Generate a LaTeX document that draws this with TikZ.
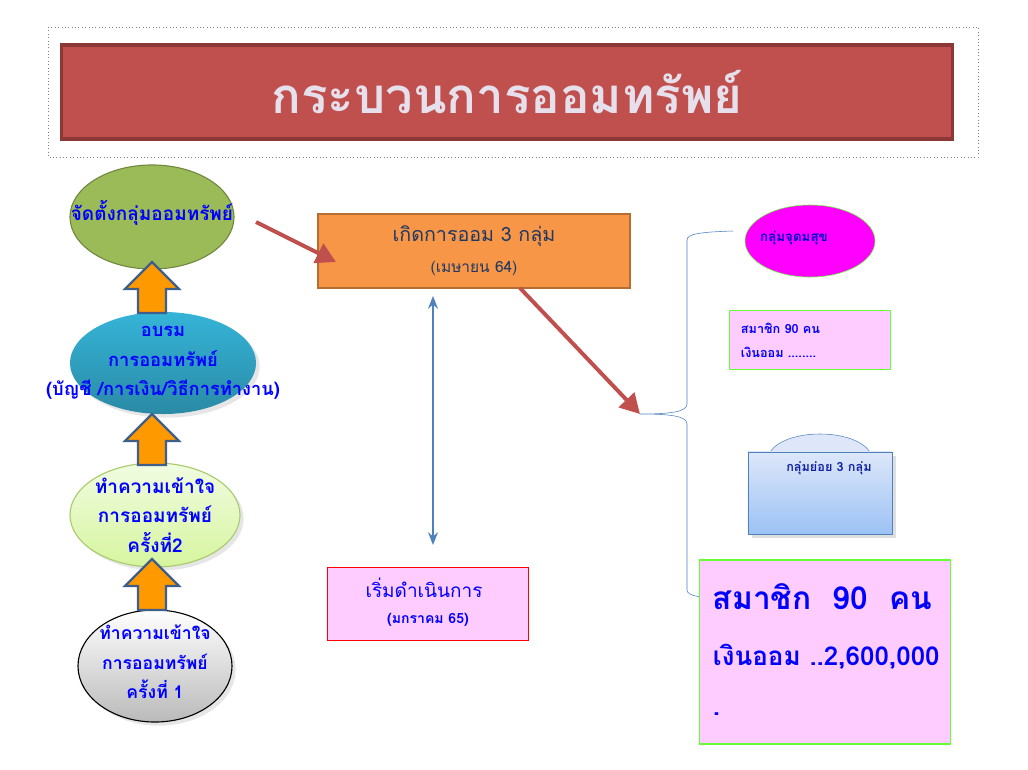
\documentclass[tikz,border=0pt]{standalone}
\usepackage{fontspec}
\setmainfont[Script=Thai]{Loma}
\usetikzlibrary{shapes.geometric,arrows.meta,shadows}

\definecolor{titlered}{HTML}{C0504D}
\definecolor{titleedge}{HTML}{8C3836}
\definecolor{titletext}{HTML}{E6E0EC}
\definecolor{olivegreen}{HTML}{9BBB59}
\definecolor{oliveedge}{HTML}{71893F}
\definecolor{tealtop}{HTML}{35B4D8}
\definecolor{tealbot}{HTML}{2A8AA5}
\definecolor{limetop}{HTML}{F1FCE2}
\definecolor{limebot}{HTML}{D6F59E}
\definecolor{limeedge}{HTML}{A9CB6E}
\definecolor{arrowfill}{HTML}{FF9900}
\definecolor{arrowedge}{HTML}{3F5F8A}
\definecolor{orangebox}{HTML}{F79646}
\definecolor{orangeedge}{HTML}{B66D31}
\definecolor{navytext}{HTML}{1F3864}
\definecolor{steel}{HTML}{4F81BD}
\definecolor{pinkbox}{HTML}{FFCCFF}
\definecolor{limeline}{HTML}{66FF33}
\definecolor{skytop}{HTML}{DDE7F9}
\definecolor{skybot}{HTML}{9CC2F5}
\definecolor{textblue}{HTML}{0000FF}
\definecolor{pureviolet}{HTML}{FF00FF}

\begin{document}
\begin{tikzpicture}[x=0.025cm, y=-0.025cm,
    stage/.style={ellipse, draw, thick, inner sep=0pt},
    stagetext/.style={text=textblue, font=\bfseries\fontsize{#1}{21}\selectfont, align=center},
    uparrow/.style={fill=arrowfill, draw=arrowedge, line width=1.6pt, line join=miter},
    redarrow/.style={titlered, line width=2.8pt, -{Triangle[length=14pt, width=15pt]}},
    pinkcard/.style={rectangle, fill=pinkbox, draw=limeline, thick}]
    \useasboundingbox (0,0) rectangle (1028,770);

    % Titulek
    \draw[gray, dotted] (48,27) rectangle (978,157);
    \node[rectangle, fill=titlered, draw=titleedge, line width=2.2pt, minimum width=22.25cm, minimum height=2.35cm,
          text=titletext, font=\bfseries\fontsize{35}{40}\selectfont] (title) at (507,92) {กระบวนการออมทรัพย์};

    % Levy sloupec (zdola nahoru)
    \node[stage, fill=olivegreen, draw=oliveedge, minimum width=4.1cm, minimum height=2.6cm] (found) at (152,217) {};
    \node[stagetext=13.5] at (152,213) {จัดตั้งกลุ่มออมทรัพย์};
    \node[stage, top color=tealtop, bottom color=tealbot, draw=none, minimum width=4.65cm, minimum height=2.55cm, drop shadow={opacity=0.2}] (train) at (163,363) {};
    \node[stagetext=13] at (train) {อบรม\\การออมทรัพย์\\(บัญชี /การเงิน/วิธีการทำงาน)};
    \node[stage, top color=limetop, bottom color=limebot, draw=limeedge, minimum width=4.25cm, minimum height=2.6cm, drop shadow={opacity=0.2}] (learn2) at (155,515) {};
    \node[stagetext=13.5] at (learn2) {ทำความเข้าใจ\\การออมทรัพย์\\ครั้งที่2};
    \node[stage, top color=white, bottom color=black!27, draw=black, minimum width=3.85cm, minimum height=2.8cm, drop shadow={opacity=0.2}] (learn1) at (155,666) {};
    \node[stagetext=12.5] at (155,662) {ทำความเข้าใจ\\การออมทรัพย์\\ครั้งที่ 1};

    % Blokove sipky
    \foreach \by in {313, 465, 610}
        \draw[uparrow] (138,\by) -- (138,\by-24) -- (125,\by-24) -- (152,\by-51) -- (179,\by-24) -- (166,\by-24) -- (166,\by) -- cycle;

    % Stred
    \node[rectangle, fill=orangebox, draw=orangeedge, line width=1.2pt, minimum width=7.8cm, minimum height=1.85cm] (gather) at (474,251) {};
    \node[text=navytext, font=\fontsize{14}{18}\selectfont] at (474,236) {เกิดการออม 3 กลุ่ม};
    \node[text=navytext, font=\fontsize{11}{14}\selectfont] at (474,268) {(เมษายน 64)};

    \node[rectangle, fill=pinkbox, draw=red, thick, minimum width=5.02cm, minimum height=1.82cm] (start) at (428,604) {};
    \node[text=textblue, font=\fontsize{13.5}{18}\selectfont] at (424,588) {เริ่มดำเนินการ};
    \node[text=textblue, font=\bfseries\fontsize{10}{12}\selectfont] at (428,620) {(มกราคม 65)};

    \coordinate (a1) at (256,222);
    \coordinate (a1e) at (336,262);
    \coordinate (a2) at (520,288);
    \coordinate (brace) at (640,414);
    \coordinate (ud1) at (433,296);
    \coordinate (ud2) at (433,545);

    \draw[redarrow] (a1) -- (a1e);
    \draw[redarrow] (a2) -- (brace);
    \draw[steel, line width=1.8pt, {Stealth[length=9pt, width=7pt]}-{Stealth[length=9pt, width=7pt]}] (ud1) -- (ud2);

    % Zavorka
    \draw[steel, thin] (733,231) .. controls (700,232) and (687,234) .. (687,240) -- (687,404)
        .. controls (687,412) and (670,414) .. (brace) .. controls (670,414) and (687,416) .. (687,424)
        -- (687,590) .. controls (687,596) and (700,598) .. (733,599);

    % Pravy sloupec
    \node[ellipse, fill=pureviolet, draw=limeline, minimum width=3.25cm, minimum height=1.8cm] (happy) at (810,241) {};
    \node[text=blue!80!black, font=\bfseries\fontsize{9.5}{11}\selectfont] at (794,238) {กลุ่มจุดมสุข};

    \node[pinkcard, minimum width=4.02cm, minimum height=1.48cm] (members) at (810,340) {};
    \node[anchor=west, text=textblue, font=\bfseries\fontsize{9}{11}\selectfont] at (736,328) {สมาชิก 90 คน};
    \node[anchor=west, text=textblue, font=\bfseries\fontsize{9}{11}\selectfont] at (736,352) {เงินออม ........};

    \fill[skytop] (770,453) .. controls (786,428) and (854,428) .. (870,453) -- cycle;
    \draw[steel] (770,452) .. controls (786,428) and (854,428) .. (870,452);
    \node[rectangle, top color=skytop, bottom color=skybot, draw=steel, minimum width=3.6cm, minimum height=2.05cm, drop shadow={opacity=0.25}] (sub) at (820,493) {};
    \node[text=navytext!60!blue, font=\bfseries\fontsize{9}{12}\selectfont] at (829,468) {กลุ่มย่อย 3 กลุ่ม};

    \node[pinkcard, minimum width=6.27cm, minimum height=4.6cm] (total) at (825,652) {};
    \node[anchor=west, text=textblue, font=\bfseries\fontsize{22.5}{26}\selectfont] at (708,597) {สมาชิก~~90~~คน};
    \node[anchor=west, text=textblue, font=\bfseries\fontsize{18.5}{22}\selectfont] at (708,657) {เงินออม ..2,600,000};
    \node[anchor=west, text=textblue, font=\bfseries\fontsize{18.5}{22}\selectfont] at (708,714) {.};
\end{tikzpicture}
\end{document}
